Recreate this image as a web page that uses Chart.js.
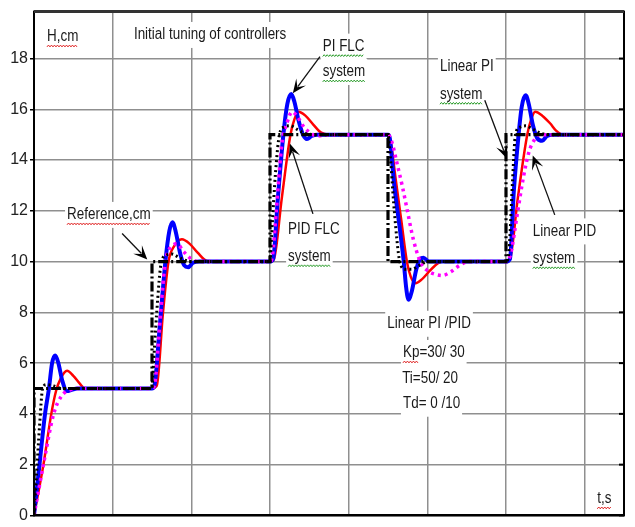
<!DOCTYPE html>
<html>
<head>
<meta charset="utf-8">
<script src="https://cdn.jsdelivr.net/npm/chart.js@4/dist/chart.umd.min.js"></script>
<style>
  html, body { margin: 0; padding: 0; background: #fff; }
  canvas { display: block; }
</style>
</head>
<body>
<canvas id="c" width="635" height="527"></canvas>
<script>
// Water level H (cm) versus time t (s) for a staircase of set-points.

// Reference set-point
const refT = [0, 0, 150, 150, 300, 300, 450, 450, 600, 600, 750];
const refH = [0, 5, 5, 10, 10, 15, 15, 10, 10, 15, 15];

// Linear PI controller
const linPiT = [0, 3, 7, 11, 16, 25, 35,
  150, 151, 156, 162, 168, 175, 185, 200,
  300, 302, 307, 312, 318, 326, 335, 345, 360,
  450, 452, 458, 465, 472, 480, 490, 500,
  600, 604, 608, 612, 618, 625, 635, 645, 660, 750];
const linPiH = [0, 1.5, 3.5, 5, 5.15, 5.1, 5.0,
  5, 5.5, 8, 10, 10.25, 10.3, 10.15, 10,
  10, 11, 13.5, 15, 15.3, 15.35, 15.2, 15.05, 15,
  15, 14.5, 12, 10, 9.7, 9.7, 9.85, 10,
  10, 10.5, 13, 15, 15.3, 15.35, 15.2, 15.05, 15, 15];

// Linear PID controller
const linPidT = [0, 12, 25, 35, 46, 60,
  150, 154, 161, 167, 175, 182, 190, 200, 210,
  300, 303, 308, 315, 322, 328, 335, 342, 350, 360, 375,
  450, 455, 462, 468, 474, 482, 491, 500, 510, 519, 530, 541, 552, 570,
  600, 606, 614, 622, 629, 636, 642, 660, 750];
const linPidH = [0, 2, 4, 4.7, 4.95, 5,
  5, 5.3, 8, 10, 10.6, 10.7, 10.4, 10.1, 10,
  10, 10.2, 12, 14.6, 15.5, 15.9, 15.7, 15.35, 15.1, 14.95, 15,
  15, 14.7, 13.8, 13, 12.1, 10.9, 10, 9.65, 9.5, 9.45, 9.6, 9.85, 10, 10,
  10, 10.3, 11.8, 13.3, 14.3, 14.8, 15, 15, 15];

// PI fuzzy logic controller
const piFlcT = [0, 7, 14, 19, 23, 27, 31, 36, 42, 48, 55,
  150, 153, 160, 167, 172, 176, 180, 186, 191, 196, 202, 210,
  300, 304, 310, 317, 322, 327, 331, 336, 342, 347, 353, 360,
  450, 452, 458, 465, 470, 473, 476, 480, 486, 491, 495, 502, 510,
  600, 605, 610, 616, 620, 625, 629, 634, 640, 646, 652, 660, 750];
const piFlcH = [0, 2, 4, 5, 6, 6.3, 6.0, 5.3, 4.9, 4.95, 5,
  5, 5.1, 7.5, 10, 11.2, 11.55, 11.2, 10.3, 9.85, 9.78, 9.95, 10,
  10, 10.1, 12.5, 15, 16.2, 16.6, 16.3, 15.6, 15.0, 14.83, 14.95, 15,
  15, 14.9, 13, 11.3, 10, 9, 8.5, 8.8, 9.7, 10.1, 10.15, 10.0, 10,
  10, 10.1, 12.8, 15, 16.1, 16.55, 16.2, 15.4, 14.85, 14.76, 14.95, 15, 15];

// PID fuzzy logic controller
const pidFlcT = [0, 12, 22, 28, 34, 42, 50, 58, 65,
  150, 156, 164, 171, 178, 188, 198, 208, 220, 230,
  300, 305, 315, 326, 331, 336, 345, 355, 365, 375,
  450, 453, 460, 467, 474, 479, 485, 493, 502, 510, 519, 530,
  600, 605, 615, 627, 632, 637, 646, 656, 664, 672, 750];
const pidFlcH = [0, 2, 4, 4.9, 5.4, 5.7, 5.5, 5.2, 5.0,
  5, 5.1, 8, 10, 10.6, 10.88, 10.7, 10.35, 10.02, 10,
  10, 10.1, 12.5, 15, 15.6, 15.9, 15.75, 15.4, 15.08, 15,
  15, 14.8, 13.2, 11.6, 10, 9.4, 9.15, 9.3, 9.6, 9.85, 10, 10,
  10, 10.1, 12.5, 15, 15.6, 15.9, 15.75, 15.45, 15.15, 15, 15];

// Axis limits and ticks
const tMax = 750;
const tGridStep = 100;
const hMax = 19.85;
const hTickStep = 2;

const FONT = '"Liberation Sans Narrow", "Liberation Sans", Arial, sans-serif';
const RED_WAVE = '#e02020';
const GREEN_WAVE = '#2a9d2a';
const SQUEEZE = 0.84;   // horizontal squeeze for a narrow typeface look

// Text notes placed in data units (t, H)
const notes = [
  { text: 'H,cm', t: 16.5, h: 18.85, wave: RED_WAVE },
  { text: 'Initial tuning of controllers', t: 127, h: 18.93 },
  { text: 'Reference,cm', t: 42, h: 11.84, wave: RED_WAVE },
  { text: 'PI FLC', t: 367, h: 18.47, wave: GREEN_WAVE },
  { text: 'system', t: 367, h: 17.47, wave: GREEN_WAVE },
  { text: 'PID FLC', t: 323, h: 11.26 },
  { text: 'system', t: 323, h: 10.19, wave: GREEN_WAVE },
  { text: 'Linear PI', t: 516, h: 17.7 },
  { text: 'system', t: 516, h: 16.59, wave: GREEN_WAVE },
  { text: 'Linear PID', t: 634, h: 11.19 },
  { text: 'system', t: 634, h: 10.11, wave: GREEN_WAVE },
  { text: 'Linear PI /PID', t: 449, h: 7.55 },
  { text: 'Kp=30/ 30', t: 469, h: 6.4, waveChars: 2, wave: RED_WAVE },
  { text: 'Ti=50/ 20', t: 468, h: 5.4 },
  { text: 'Td= 0 /10', t: 469, h: 4.4 },
  { text: 't,s', t: 716, h: 0.65, wave: RED_WAVE }
];

// Pointer arrows: tail -> head, in data units
const arrows = [
  { t0: 112, h0: 11.11, t1: 144, h1: 10.08 },
  { t0: 363.5, h0: 18.08, t1: 329, h1: 16.63 },
  { t0: 354.6, h0: 11.88, t1: 325.4, h1: 14.64 },
  { t0: 573, h0: 16.36, t1: 601, h1: 14.06 },
  { t0: 662, h0: 11.84, t1: 634, h1: 14.18 }
];

const pts = (ts, hs) => ts.map((t, i) => ({ x: t, y: hs[i] }));

const annotate = {
  id: 'annotate',
  afterDraw(chart) {
    const { ctx, chartArea: a, scales: { x, y } } = chart;
    ctx.save();

    // text notes: white backing first, so grid lines stop behind the words
    ctx.font = '16px ' + FONT;
    ctx.textBaseline = 'middle';
    ctx.textAlign = 'left';
    ctx.fillStyle = '#fff';
    notes.forEach(n => {
      const px = x.getPixelForValue(n.t), py = y.getPixelForValue(n.h);
      const w = ctx.measureText(n.text).width * SQUEEZE;
      ctx.fillRect(px - 2, py - 13, w + 4, 26);
    });

    // frame round the plot
    ctx.strokeStyle = '#000';
    ctx.lineWidth = 2;
    ctx.strokeRect(a.left, a.top, a.right - a.left, a.bottom - a.top);
    ctx.strokeStyle = '#333';
    ctx.lineWidth = 3;
    ctx.beginPath();
    ctx.moveTo(a.left, a.top);
    ctx.lineTo(a.right, a.top);
    ctx.stroke();

    // inner tick marks on the right edge
    ctx.strokeStyle = '#000';
    ctx.lineWidth = 2;
    y.ticks.forEach(tk => {
      const py = y.getPixelForValue(tk.value);
      ctx.beginPath();
      ctx.moveTo(a.right - 5, py);
      ctx.lineTo(a.right, py);
      ctx.stroke();
    });

    // arrows
    arrows.forEach(ar => {
      const x0 = x.getPixelForValue(ar.t0), y0 = y.getPixelForValue(ar.h0);
      const x1 = x.getPixelForValue(ar.t1), y1 = y.getPixelForValue(ar.h1);
      const ang = Math.atan2(y1 - y0, x1 - x0);
      const c = Math.cos(ang), s = Math.sin(ang);
      const L = 14, W = 6;
      ctx.strokeStyle = '#111';
      ctx.lineWidth = 1.3;
      ctx.beginPath();
      ctx.moveTo(x0, y0);
      ctx.lineTo(x1 - c * L * 0.6, y1 - s * L * 0.6);
      ctx.stroke();
      ctx.fillStyle = '#000';
      ctx.beginPath();
      ctx.moveTo(x1, y1);
      ctx.lineTo(x1 - c * L - s * W, y1 - s * L + c * W);
      ctx.lineTo(x1 - c * L * 0.55, y1 - s * L * 0.55);
      ctx.lineTo(x1 - c * L + s * W, y1 - s * L - c * W);
      ctx.closePath();
      ctx.fill();
    });

    // words and wavy underlines
    notes.forEach(n => {
      const px = x.getPixelForValue(n.t), py = y.getPixelForValue(n.h);
      const w = ctx.measureText(n.text).width * SQUEEZE;
      ctx.save();
      ctx.translate(px, py);
      ctx.scale(SQUEEZE, 1);
      ctx.fillStyle = '#1a1a1a';
      ctx.fillText(n.text, 0, 0);
      ctx.restore();
      if (n.wave) {
        const ww = n.waveChars ? ctx.measureText(n.text.slice(0, n.waveChars)).width * SQUEEZE : w;
        ctx.strokeStyle = n.wave;
        ctx.lineWidth = 1;
        ctx.beginPath();
        const by = py + 9;
        for (let k = 0; k <= ww; k += 1.5) {
          const yy = by + ((Math.round(k / 1.5) % 2) ? -0.9 : 0.9);
          if (k === 0) ctx.moveTo(px + k, yy); else ctx.lineTo(px + k, yy);
        }
        ctx.stroke();
      }
    });
    ctx.restore();
  }
};

new Chart(document.getElementById('c'), {
  type: 'line',
  data: {
    datasets: [
      { label: 'Reference,cm', data: pts(refT, refH), borderColor: '#000', borderWidth: 3.2,
        borderDash: [10, 3, 2, 3], tension: 0 },
      { label: 'Linear PI system', data: pts(linPiT, linPiH), borderColor: '#000', borderWidth: 3,
        borderDash: [2, 3], cubicInterpolationMode: 'monotone' },
      { label: 'Linear PID system', data: pts(linPidT, linPidH), borderColor: '#ff00ff', borderWidth: 3.5,
        borderDash: [3, 4], cubicInterpolationMode: 'monotone' },
      { label: 'PI FLC system', data: pts(piFlcT, piFlcH), borderColor: '#0000ff', borderWidth: 4,
        cubicInterpolationMode: 'monotone' },
      { label: 'PID FLC system', data: pts(pidFlcT, pidFlcH), borderColor: '#ff0000', borderWidth: 2.5,
        cubicInterpolationMode: 'monotone' }
    ]
  },
  options: {
    responsive: false,
    animation: false,
    devicePixelRatio: 1,
    elements: { point: { radius: 0, hoverRadius: 0 }, line: { fill: false } },
    layout: { padding: { top: 4, right: 11, bottom: 5, left: 0 } },
    plugins: { legend: { display: false }, tooltip: { enabled: false } },
    scales: {
      x: {
        type: 'linear', min: 0, max: tMax,
        ticks: { stepSize: tGridStep, display: false, includeBounds: false },
        grid: { color: '#8f8f8f', lineWidth: 1.5, drawTicks: false },
        border: { display: true, color: '#000', width: 2 },
        afterFit: s => { s.height = 0; }
      },
      y: {
        min: 0, max: hMax,
        ticks: { stepSize: hTickStep, includeBounds: false, color: '#222', padding: 2,
          font: { family: FONT, size: 16 } },
        grid: { color: '#8f8f8f', lineWidth: 1.5, tickLength: 4, tickColor: '#000' },
        border: { display: true, color: '#000', width: 2 },
        afterFit: s => { s.width = 34; }
      }
    }
  },
  plugins: [annotate]
});
</script>
</body>
</html>
